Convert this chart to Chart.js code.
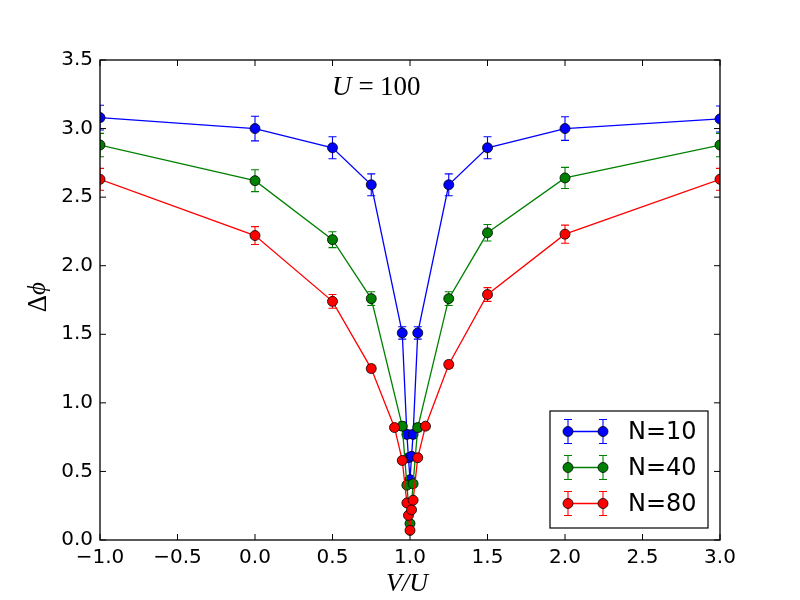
<!DOCTYPE html>
<html>
<head>
<meta charset="utf-8">
<script src="https://cdn.jsdelivr.net/npm/chart.js@4.4.0/dist/chart.umd.min.js"></script>
<style>
  html, body { margin: 0; padding: 0; background: #fff; }
  canvas { display: block; }
</style>
</head>
<body>
<canvas id="grafico" width="800" height="600"></canvas>
<script>
// V/U values and Delta-phi, one set per N
const xs10 = [-1, 0, 0.5, 0.75, 0.95, 0.98, 0.99, 1.0, 1.01, 1.02, 1.05, 1.25, 1.5, 2, 3];
const ys10 = [3.08, 3.00, 2.86, 2.59, 1.51, 0.77, 0.60, 0.44, 0.61, 0.77, 1.51, 2.59, 2.86, 3.00, 3.07];
const err10 = [0.09, 0.09, 0.08, 0.08, 0.045, 0.03, 0.02, 0.015, 0.02, 0.03, 0.045, 0.08, 0.08, 0.086, 0.095];

const xs40 = [-1, 0, 0.5, 0.75, 0.95, 0.98, 1.0, 1.02, 1.05, 1.25, 1.5, 2, 3];
const ys40 = [2.88, 2.62, 2.19, 1.76, 0.83, 0.40, 0.12, 0.41, 0.82, 1.76, 2.24, 2.64, 2.88];
const err40 = [0.085, 0.08, 0.058, 0.05, 0.03, 0.02, 0.01, 0.02, 0.03, 0.05, 0.06, 0.077, 0.085];

const xs80 = [-1, 0, 0.5, 0.75, 0.9, 0.95, 0.98, 0.99, 1.0, 1.01, 1.02, 1.05, 1.1, 1.25, 1.5, 2, 3];
const ys80 = [2.63, 2.22, 1.74, 1.25, 0.82, 0.58, 0.27, 0.18, 0.07, 0.22, 0.29, 0.60, 0.83, 1.28, 1.79, 2.23, 2.63];
const err80 = [0.08, 0.065, 0.05, 0.025, 0.02, 0.02, 0.015, 0.01, 0.01, 0.01, 0.015, 0.02, 0.02, 0.025, 0.05, 0.066, 0.08];

const legendas = ['N=10', 'N=40', 'N=80'];
const cores = ['#0000ff', '#008000', '#ff0000'];

function montarSerie(xs, ys, errs, i) {
    return {
        label: legendas[i],
        data: xs.map((x, k) => ({ x: x, y: ys[k] })),
        errs: errs,
        showLine: true,
        borderColor: cores[i],
        borderWidth: 1.3,
        pointRadius: 5,
        pointHoverRadius: 5,
        pointBackgroundColor: cores[i],
        pointBorderColor: '#000',
        pointBorderWidth: 0.8,
        tension: 0,
        clip: 0,
        order: 2 - i
    };
}

const tickFont = { family: 'DejaVu Sans', size: 20 };
const fmt = (v) => Number(v).toFixed(1).replace('-', '\u2212');

// barras de erro, desenhadas antes dos pontos
const barrasErro = {
    id: 'barrasErro',
    beforeDatasetsDraw(chart) {
        const ctx = chart.ctx, a = chart.chartArea;
        const sx = chart.scales.x, sy = chart.scales.y;
        ctx.save();
        ctx.beginPath();
        ctx.rect(a.left, a.top, a.right - a.left, a.bottom - a.top);
        ctx.clip();
        ctx.lineWidth = 1.1;
        chart.data.datasets.forEach((ds) => {
            ctx.strokeStyle = ds.borderColor;
            ds.data.forEach((p, k) => {
                const px = sx.getPixelForValue(p.x);
                const y1 = sy.getPixelForValue(p.y + ds.errs[k]);
                const y2 = sy.getPixelForValue(p.y - ds.errs[k]);
                ctx.beginPath();
                ctx.moveTo(px, y1); ctx.lineTo(px, y2);
                ctx.moveTo(px - 4, y1); ctx.lineTo(px + 4, y1);
                ctx.moveTo(px - 4, y2); ctx.lineTo(px + 4, y2);
                ctx.stroke();
            });
        });
        ctx.restore();
    }
};

// moldura com ticks para dentro, textos e legenda
const moldura = {
    id: 'moldura',
    afterDraw(chart) {
        const ctx = chart.ctx, a = chart.chartArea;
        const sx = chart.scales.x, sy = chart.scales.y;
        ctx.save();
        ctx.strokeStyle = '#000';
        ctx.lineWidth = 1.3;
        ctx.strokeRect(a.left, a.top, a.right - a.left, a.bottom - a.top);
        ctx.lineWidth = 1;
        ctx.beginPath();
        sx.ticks.forEach((t) => {
            const px = sx.getPixelForValue(t.value);
            ctx.moveTo(px, a.bottom); ctx.lineTo(px, a.bottom - 6);
            ctx.moveTo(px, a.top); ctx.lineTo(px, a.top + 6);
        });
        sy.ticks.forEach((t) => {
            const py = sy.getPixelForValue(t.value);
            ctx.moveTo(a.left, py); ctx.lineTo(a.left + 6, py);
            ctx.moveTo(a.right, py); ctx.lineTo(a.right - 6, py);
        });
        ctx.stroke();

        // anotacao U=100
        ctx.fillStyle = '#000';
        ctx.textBaseline = 'alphabetic';
        ctx.font = 'italic 27px "Liberation Serif"';
        ctx.textAlign = 'left';
        ctx.fillText('U', 332, 95);
        ctx.font = '27px "Liberation Serif"';
        ctx.textAlign = 'center';
        ctx.fillText('=', 366, 95);
        ctx.textAlign = 'left';
        ctx.fillText('100', 380, 95);

        // titulo do eixo x
        ctx.font = 'italic 26px "Liberation Serif"';
        ctx.textAlign = 'center';
        ctx.fillText('V/U', 407, 591);

        // titulo do eixo y
        ctx.save();
        ctx.translate(46, 296);
        ctx.rotate(-Math.PI / 2);
        ctx.font = '27px "Liberation Serif"';
        ctx.textAlign = 'right';
        ctx.fillText('\u0394', 1, 0);
        ctx.font = 'italic 25px "Liberation Serif"';
        ctx.textAlign = 'left';
        ctx.fillText('\u03d5', 1, -1);
        ctx.restore();

        // legenda
        const lx = 550, ly = 411, lw = 158, lh = 117;
        ctx.fillStyle = '#fff';
        ctx.fillRect(lx, ly, lw, lh);
        ctx.lineWidth = 1.2;
        ctx.strokeStyle = '#000';
        ctx.strokeRect(lx, ly, lw, lh);
        chart.data.datasets.forEach((ds, i) => {
            const y = 431.5 + i * 36;
            ctx.strokeStyle = ds.borderColor;
            ctx.lineWidth = 1.3;
            ctx.beginPath();
            ctx.moveTo(568, y); ctx.lineTo(603, y);
            ctx.stroke();
            ctx.lineWidth = 1.1;
            [568, 603].forEach((mx) => {
                ctx.beginPath();
                ctx.moveTo(mx, y - 12); ctx.lineTo(mx, y + 12);
                ctx.moveTo(mx - 4, y - 12); ctx.lineTo(mx + 4, y - 12);
                ctx.moveTo(mx - 4, y + 12); ctx.lineTo(mx + 4, y + 12);
                ctx.stroke();
                ctx.beginPath();
                ctx.arc(mx, y, 5, 0, Math.PI * 2);
                ctx.fillStyle = ds.borderColor;
                ctx.fill();
                ctx.lineWidth = 0.8;
                ctx.strokeStyle = '#000';
                ctx.stroke();
                ctx.strokeStyle = ds.borderColor;
                ctx.lineWidth = 1.1;
            });
            ctx.fillStyle = '#000';
            ctx.font = '24px "DejaVu Sans"';
            ctx.textAlign = 'left';
            ctx.textBaseline = 'middle';
            ctx.fillText(ds.label, 628, y + 1);
        });
        ctx.restore();
    }
};

new Chart(document.getElementById('grafico'), {
    type: 'scatter',
    data: {
        datasets: [
            montarSerie(xs10, ys10, err10, 0),
            montarSerie(xs40, ys40, err40, 1),
            montarSerie(xs80, ys80, err80, 2)
        ]
    },
    options: {
        responsive: false,
        animation: false,
        devicePixelRatio: 1,
        layout: { padding: { top: 60, right: 80, left: 0, bottom: 0 } },
        plugins: {
            legend: { display: false },
            tooltip: { enabled: false }
        },
        scales: {
            x: {
                type: 'linear',
                min: -1,
                max: 3,
                grid: { display: false, drawTicks: false },
                border: { display: false },
                ticks: { stepSize: 0.5, font: tickFont, color: '#000', padding: 6, maxRotation: 0, callback: fmt },
                afterFit(scale) { scale.height = 60; }
            },
            y: {
                type: 'linear',
                min: 0,
                max: 3.5,
                grid: { display: false, drawTicks: false },
                border: { display: false },
                ticks: { stepSize: 0.5, font: tickFont, color: '#000', padding: 7, callback: fmt },
                afterFit(scale) { scale.width = 100; }
            }
        }
    },
    plugins: [barrasErro, moldura]
});
</script>
</body>
</html>
